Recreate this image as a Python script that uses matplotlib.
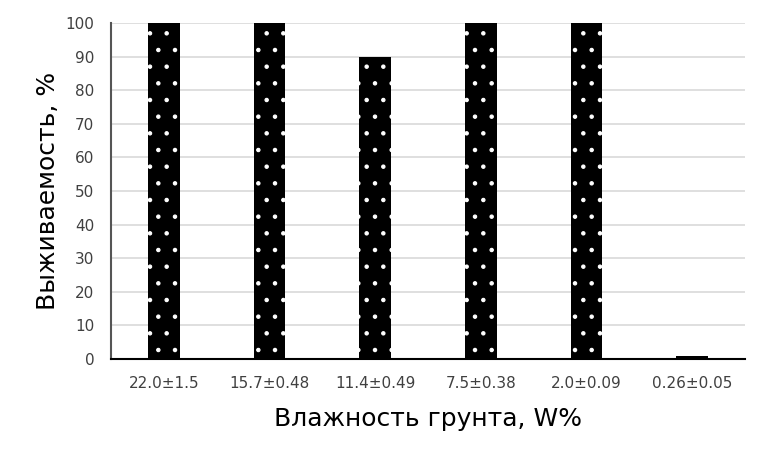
import matplotlib
matplotlib.use("Agg")
import matplotlib.pyplot as plt
import numpy as np

# soil moisture categories and survival values
categories = ["22.0±1.5", "15.7±0.48", "11.4±0.49", "7.5±0.38", "2.0±0.09", "0.26±0.05"]
survival = [100, 100, 90, 100, 100, 1]
yticks = list(range(0, 101, 10))

plt.rcParams['hatch.linewidth'] = 0.8

fig = plt.figure(figsize=(7.68, 4.61), dpi=100)
ax = fig.add_axes([0.1445, 0.2213, 0.8255, 0.7287])

x = np.arange(len(categories))
ax.bar(x, survival, width=0.3, color="black", edgecolor="white", linewidth=0, hatch=".", zorder=3)

ax.set_xlim(-0.5, len(categories) - 0.5)
ax.set_ylim(0, 100)
ax.set_yticks(yticks)
ax.set_xticks(x)
ax.set_xticklabels(categories)
ax.grid(axis="y", color="#d9d9d9", linewidth=1.2, zorder=0)

for s in ["top", "right"]:
    ax.spines[s].set_visible(False)
ax.spines["left"].set_color("#555555")
ax.spines["left"].set_linewidth(1.5)
ax.spines["bottom"].set_color("black")
ax.spines["bottom"].set_linewidth(1.5)

ax.tick_params(axis="both", length=0, labelsize=11, colors="#404040", pad=12)
ax.tick_params(axis="y", pad=12)

ax.set_ylabel("Выживаемость, %", fontsize=18, labelpad=4)
ax.set_xlabel("Влажность грунта, W%", fontsize=18, labelpad=12)

fig.savefig("out.png", dpi=100)
